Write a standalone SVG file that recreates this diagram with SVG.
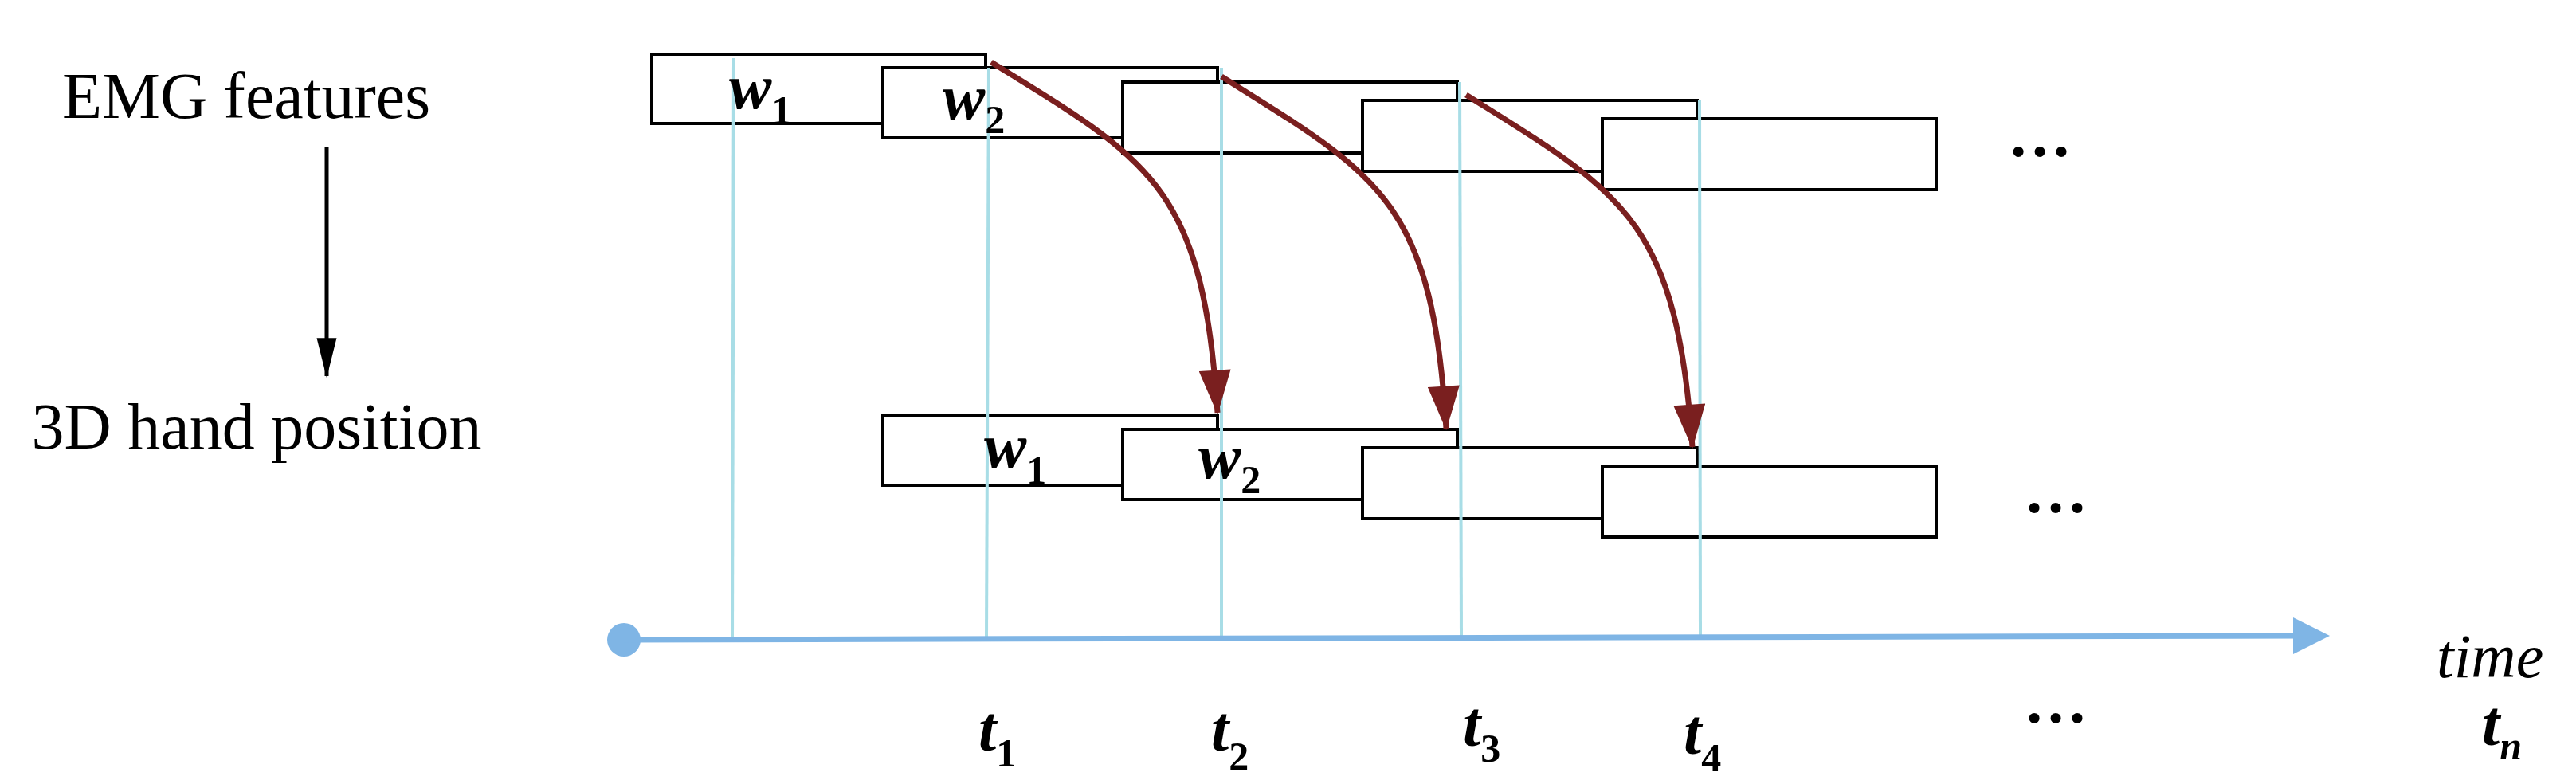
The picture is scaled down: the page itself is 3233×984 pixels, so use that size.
<svg xmlns="http://www.w3.org/2000/svg" width="3233" height="984" viewBox="0 0 3233 984">
<style>
.box{fill:#fff;stroke:#000;stroke-width:4}
.vl{stroke:#a8dde6;stroke-width:4;fill:none}
.red{stroke:#7a1f1f;stroke-width:7;fill:none}
.lbl{font-family:"Liberation Serif",serif;font-size:82px;fill:#000}
.w{font-family:"Liberation Serif",serif;font-style:italic;font-weight:bold;font-size:80px}
.sub{font-style:normal;font-weight:bold;font-size:50px}
.dots{font-family:"Liberation Serif",serif;font-size:80px;font-weight:bold}
</style>
<defs>
<marker id="rh" markerUnits="userSpaceOnUse" markerWidth="60" markerHeight="40" viewBox="0 0 50 36" refX="48" refY="18" orient="auto"><path d="M0,0 L50,18 L0,36 Z" fill="#7a1f1f"/></marker>
<marker id="bh" markerUnits="userSpaceOnUse" markerWidth="50" markerHeight="30" viewBox="0 0 44 22" refX="42" refY="11" orient="auto"><path d="M0,0 L44,11 L0,22 Z" fill="#000"/></marker>
</defs>
<text class="lbl" x="309" y="148" text-anchor="middle">EMG features</text>
<text class="lbl" x="322" y="563" text-anchor="middle">3D hand position</text>
<line x1="410" y1="185" x2="410" y2="472" stroke="#000" stroke-width="5" marker-end="url(#bh)"/>
<g id="top-windows">
<rect class="box" x="818" y="68" width="419" height="87"/>
<rect class="box" x="1108" y="85" width="420" height="88"/>
<rect class="box" x="1409" y="103" width="420" height="89"/>
<rect class="box" x="1710" y="126" width="420" height="89"/>
<rect class="box" x="2011" y="149" width="419" height="89"/>
</g>
<g id="bottom-windows">
<rect class="box" x="1108" y="521" width="420" height="88"/>
<rect class="box" x="1409" y="539" width="420" height="88"/>
<rect class="box" x="1710" y="562" width="420" height="89"/>
<rect class="box" x="2011" y="586" width="419" height="88"/>
</g>
<g id="guides">
<line class="vl" x1="921" y1="73" x2="919" y2="802"/>
<line class="vl" x1="1241" y1="85" x2="1238" y2="801"/>
<line class="vl" x1="1533" y1="85" x2="1533" y2="800"/>
<line class="vl" x1="1832" y1="103" x2="1834" y2="799"/>
<line class="vl" x1="2133" y1="126" x2="2134" y2="798"/>
</g>
<g id="labels">
<text class="w" x="915" y="136">w<tspan class="sub" dy="19">1</tspan></text>
<text class="w" x="1183" y="149">w<tspan class="sub" dy="18">2</tspan></text>
<text class="w" x="1235" y="587">w<tspan class="sub" dy="20">1</tspan></text>
<text class="w" x="1504" y="600">w<tspan class="sub" dy="19">2</tspan></text>
</g>
<g id="connectors">
<path class="red" d="M1244,78 C1440,200 1510,230 1528,518" marker-end="url(#rh)"/>
<path class="red" d="M1533,96 C1730,220 1798,250 1815,538" marker-end="url(#rh)"/>
<path class="red" d="M1840,119 C2035,242 2104,272 2124,561" marker-end="url(#rh)"/>
</g>
<g id="axis">
<circle cx="783" cy="803" r="21" fill="#7fb5e5"/>
<line x1="783" y1="803" x2="2890" y2="798" stroke="#7fb5e5" stroke-width="7"/>
<path d="M2878,775 L2924,798 L2878,821 Z" fill="#7fb5e5"/>
</g>
<text class="dots" x="2520" y="196">…</text>
<text class="dots" x="2540" y="643">…</text>
<text class="dots" x="2540" y="907">…</text>
<text class="w" x="3058" y="850" style="font-weight:normal;font-size:78px">time</text>
<text class="w" x="1228" y="942">t<tspan class="sub" dy="20">1</tspan></text>
<text class="w" x="1520" y="942">t<tspan class="sub" dy="24">2</tspan></text>
<text class="w" x="1836" y="936">t<tspan class="sub" dy="20">3</tspan></text>
<text class="w" x="2113" y="946">t<tspan class="sub" dy="22">4</tspan></text>
<text class="w" x="3115" y="935">t<tspan class="sub" dy="18" style="font-style:italic">n</tspan></text>
</svg>
